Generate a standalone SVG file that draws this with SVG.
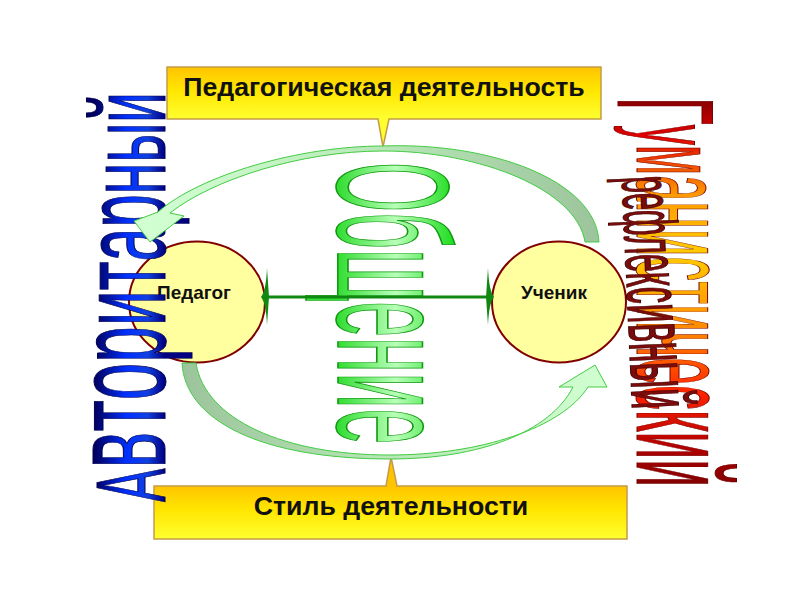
<svg xmlns="http://www.w3.org/2000/svg" width="800" height="600" viewBox="0 0 800 600">
<defs>
  <linearGradient id="gBoxTop" gradientUnits="userSpaceOnUse" x1="0" y1="67" x2="0" y2="119">
    <stop offset="0" stop-color="#ffc400"/>
    <stop offset="0.45" stop-color="#ffe600"/>
    <stop offset="1" stop-color="#ffff30"/>
  </linearGradient>
  <linearGradient id="gBoxBot" gradientUnits="userSpaceOnUse" x1="0" y1="486" x2="0" y2="539">
    <stop offset="0" stop-color="#ffc400"/>
    <stop offset="0.45" stop-color="#ffe600"/>
    <stop offset="1" stop-color="#ffff30"/>
  </linearGradient>
  <linearGradient id="gArrTop" gradientUnits="userSpaceOnUse" x1="600" y1="0" x2="150" y2="0">
    <stop offset="0" stop-color="#9cc49c"/>
    <stop offset="0.5" stop-color="#b8e8b8"/>
    <stop offset="1" stop-color="#d2ffd2"/>
  </linearGradient>
  <linearGradient id="gArrBot" gradientUnits="userSpaceOnUse" x1="182" y1="0" x2="607" y2="0">
    <stop offset="0" stop-color="#9cc49c"/>
    <stop offset="0.5" stop-color="#b8e8b8"/>
    <stop offset="1" stop-color="#d2ffd2"/>
  </linearGradient>
  <linearGradient id="gBlue" gradientUnits="userSpaceOnUse" x1="0" y1="-70" x2="0" y2="0">
    <stop offset="0" stop-color="#000060"/>
    <stop offset="0.45" stop-color="#0030ff"/>
    <stop offset="0.75" stop-color="#1040e0"/>
    <stop offset="1" stop-color="#000080"/>
  </linearGradient>
  <linearGradient id="gGreen" gradientUnits="userSpaceOnUse" x1="0" y1="-115" x2="0" y2="0">
    <stop offset="0" stop-color="#22dd22"/>
    <stop offset="0.5" stop-color="#b8ffb8"/>
    <stop offset="1" stop-color="#33dd33"/>
  </linearGradient>
  <linearGradient id="gWarm" gradientUnits="userSpaceOnUse" x1="0" y1="0" x2="1054" y2="0">
    <stop offset="0" stop-color="#800000"/>
    <stop offset="0.1" stop-color="#e00000"/>
    <stop offset="0.25" stop-color="#ff9900"/>
    <stop offset="0.4" stop-color="#ffcc00"/>
    <stop offset="0.6" stop-color="#ff8800"/>
    <stop offset="0.76" stop-color="#ff2200"/>
    <stop offset="0.9" stop-color="#b00000"/>
    <stop offset="1" stop-color="#800000"/>
  </linearGradient>
</defs>
<style>
  .box { stroke:#c49a4a; stroke-width:1.5; }
  .btxt { font-family:"Liberation Sans", Arial, sans-serif; font-weight:bold; font-size:26.7px; fill:#111111; text-anchor:middle; }
  .node { fill:#ffffa0; stroke:#800000; stroke-width:2; }
  .ntxt { font-family:"Liberation Sans", Arial, sans-serif; font-weight:bold; font-size:19px; fill:#111111; text-anchor:middle; }
  .wa { font-family:"Liberation Sans", Arial, sans-serif; font-weight:normal; }
  .blue { fill:url(#gBlue); stroke:#000050; stroke-width:1; }
  .green { fill:url(#gGreen); stroke:#119911; stroke-width:1.6; }
  .warm { fill:url(#gWarm); stroke:#700000; stroke-width:1; }
  .maroon { fill:#7a0c0c; stroke:#3a0000; stroke-width:1; }
  .cline { stroke:#118811; stroke-width:3; fill:none; }
  .chead { fill:#118811; }
  .carrow { stroke:#44cc44; stroke-width:1; }
</style>

<g id="box-activity">
  <path class="box" fill="url(#gBoxTop)" d="M167,67 H601 V119 H389 L383,147 L378,119 H167 Z"/>
  <text class="btxt" x="384" y="96">Педагогическая деятельность</text>
</g>

<g id="box-style">
  <path class="box" fill="url(#gBoxBot)" d="M154,486 H386 L391,457 L397,486 H627 V539 H154 Z"/>
  <text class="btxt" x="391" y="515">Стиль деятельности</text>
</g>

<g id="node-teacher">
  <ellipse class="node" cx="197" cy="302" rx="68" ry="60.5"/>
  <text class="ntxt" x="194" y="299">Педагог</text>
</g>

<g id="node-student">
  <ellipse class="node" cx="559" cy="302" rx="67" ry="60.5"/>
  <text class="ntxt" x="554" y="299">Ученик</text>
</g>

<g id="label-humanistic" transform="translate(637,97) rotate(90) scale(0.37,1)">
  <text class="wa warm" x="0" y="0"><tspan font-size="138" dy="19">Г</tspan><tspan font-size="110" dy="-19">у</tspan><tspan font-size="118">м</tspan><tspan font-size="128">а</tspan><tspan font-size="134">нистический</tspan></text>
</g>

<g id="label-reflexive" transform="translate(622,177) rotate(87.5) scale(0.416,1)">
  <text class="wa maroon" x="0" y="0"><tspan font-size="72">р</tspan><tspan font-size="74">е</tspan><tspan font-size="75">ф</tspan><tspan font-size="76">л</tspan><tspan font-size="78">е</tspan><tspan font-size="80">к</tspan><tspan font-size="82">с</tspan><tspan font-size="84">и</tspan><tspan font-size="86">в</tspan><tspan font-size="88">ный</tspan></text>
</g>

<g id="label-communication" transform="translate(338,162) rotate(90) scale(0.405,1)">
  <text class="wa green" x="0" y="0" font-size="159">Общение</text>
</g>

<g id="label-authoritarian" transform="translate(165,502) rotate(-90) scale(0.514,1)">
  <text class="wa blue" x="0" y="0"><tspan font-size="98">А</tspan><tspan font-size="135">в</tspan><tspan font-size="133">т</tspan><tspan font-size="131">о</tspan><tspan font-size="128">р</tspan><tspan font-size="125">и</tspan><tspan font-size="122">т</tspan><tspan font-size="119">а</tspan><tspan font-size="116">р</tspan><tspan font-size="112">н</tspan><tspan font-size="108">ы</tspan><tspan font-size="106">й</tspan></text>
</g>

<g id="connectors">
  <line class="cline" x1="266" y1="297" x2="489" y2="297"/>
  <path class="chead" d="M267,268 Q266,291 261,297 Q266,303 267,325 L269,297 Z"/>
  <path class="chead" d="M488,268 Q489,291 494,297 Q489,303 488,325 L486,297 Z"/>
  <path class="carrow" fill="url(#gArrTop)" d="M599,242 C596,180 490,142 383,146 C300,146 200,175 158,212 L134,221 L150,242 L184,216 L170,213 C212,180 300,151 383,151 C480,151 577,190 585,242 Z"/>
  <path class="carrow" fill="url(#gArrBot)" d="M182,363 C185,420 260,459 390,459 C480,459 550,432 573,387 L559,387 L595,365 L607,387 L588,387 C562,428 480,455 390,455 C285,455 205,420 196,363 Z"/>
</g>
</svg>
